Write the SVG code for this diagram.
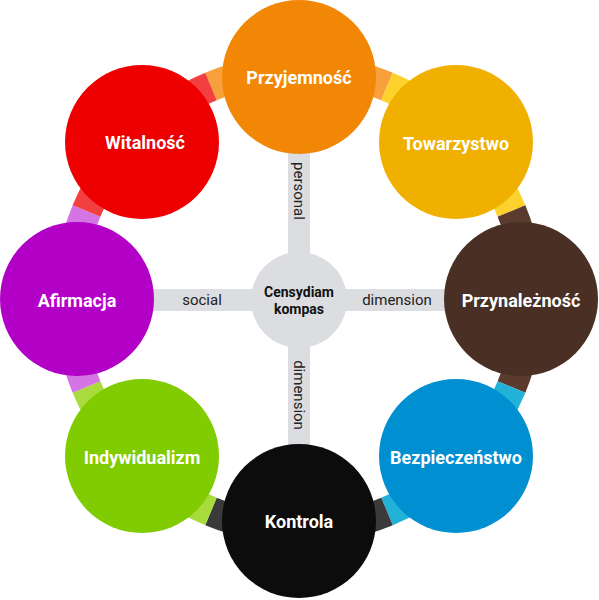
<svg xmlns="http://www.w3.org/2000/svg" width="599" height="600" viewBox="0 0 599 600">
<style>
.ring{fill:none;stroke-width:30;stroke-linecap:butt}
.bar{fill:#dcdde0}
.lbl{font-family:Roboto,"Liberation Sans",sans-serif;font-weight:bold;font-size:18px;fill:#fff;text-anchor:middle;dominant-baseline:central}
.axis{font-family:Roboto,"Liberation Sans",sans-serif;font-size:15px;fill:#222;text-anchor:middle;dominant-baseline:central}
.ctr{font-family:Roboto,"Liberation Sans",sans-serif;font-weight:bold;font-size:14px;fill:#111;text-anchor:middle}
</style>
<rect width="599" height="600" fill="#fff"/>
<g id="connectors">
<path class="ring" stroke="#f8a03c" d="M210.98,86.51 A230,230 0 0 1 387.02,86.51"/>
<path class="ring" stroke="#fdd22c" d="M387.02,86.51 A230,230 0 0 1 511.49,210.98"/>
<path class="ring" stroke="#5a3b2e" d="M511.49,210.98 A230,230 0 0 1 511.49,387.02"/>
<path class="ring" stroke="#22b2d8" d="M511.49,387.02 A230,230 0 0 1 387.02,511.49"/>
<path class="ring" stroke="#3a3a3a" d="M387.02,511.49 A230,230 0 0 1 210.98,511.49"/>
<path class="ring" stroke="#a8dc3c" d="M210.98,511.49 A230,230 0 0 1 86.51,387.02"/>
<path class="ring" stroke="#d574e4" d="M86.51,387.02 A230,230 0 0 1 86.51,210.98"/>
<path class="ring" stroke="#f24040" d="M86.51,210.98 A230,230 0 0 1 210.98,86.51"/>
<rect class="bar" x="78" y="289" width="443" height="22"/>
<rect class="bar" x="288" y="77" width="22" height="444"/>
<text class="axis" x="202" y="300">social</text>
<text class="axis" x="397" y="300">dimension</text>
<text class="axis" transform="translate(299,191) rotate(90)">personal</text>
<text class="axis" transform="translate(299,395) rotate(90)">dimension</text>
</g>
<g id="center">
<circle cx="299" cy="300" r="48" fill="#dcdde0"/>
<text class="ctr" x="299" y="297">Censydiam</text>
<text class="ctr" x="299" y="314">kompas</text>
</g>
<g id="przyjemnosc"><circle cx="299" cy="77" r="77" fill="#f28705"/><text class="lbl" x="299" y="77">Przyjemność</text></g>
<g id="towarzystwo"><circle cx="456" cy="142" r="77" fill="#f0b000"/><text class="lbl" x="456" y="143">Towarzystwo</text></g>
<g id="przynaleznosc"><circle cx="521" cy="299" r="77" fill="#4a3024"/><text class="lbl" x="521" y="300">Przynależność</text></g>
<g id="bezpieczenstwo"><circle cx="456" cy="456" r="77" fill="#0090d2"/><text class="lbl" x="456" y="457">Bezpieczeństwo</text></g>
<g id="kontrola"><circle cx="299" cy="521" r="77" fill="#0c0c0c"/><text class="lbl" x="299" y="521">Kontrola</text></g>
<g id="indywidualizm"><circle cx="142" cy="456" r="77" fill="#80cc00"/><text class="lbl" x="142" y="457">Indywidualizm</text></g>
<g id="afirmacja"><circle cx="77" cy="299" r="77" fill="#b300c6"/><text class="lbl" x="77" y="300">Afirmacja</text></g>
<g id="witalnosc"><circle cx="142" cy="142" r="77" fill="#ee0000"/><text class="lbl" x="145" y="142">Witalność</text></g>
</svg>
